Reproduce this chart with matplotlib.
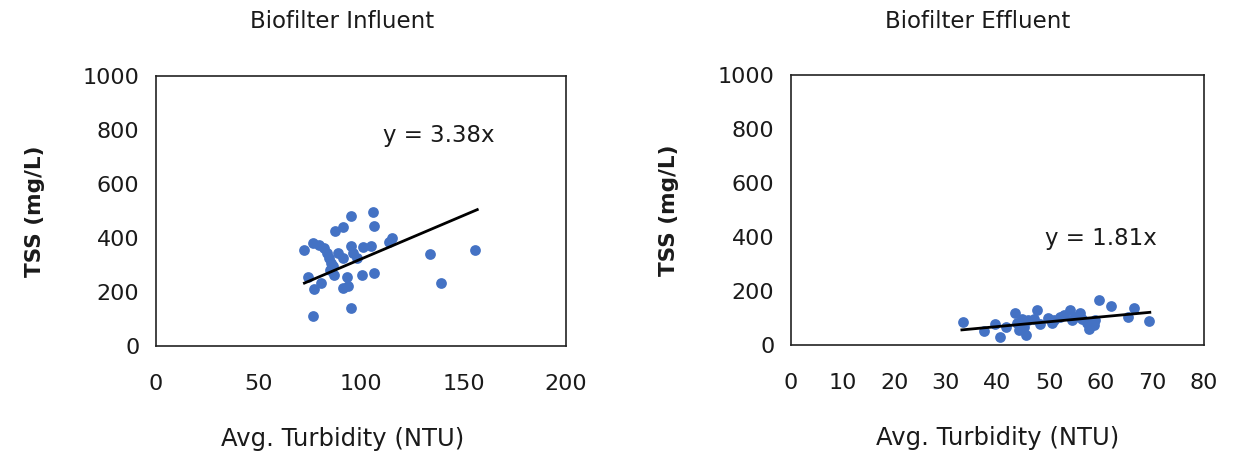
import numpy as np
import matplotlib.pyplot as plt

# Biofilter influent: avg turbidity (NTU) vs TSS (mg/L)
inf_turb = [72.4, 74.3, 76.7, 77.1, 76.7, 79.6, 80.6, 82.0, 83.5, 84.5, 85.5, 86.4,
            87.0, 87.4, 91.0, 91.0, 91.3, 93.3, 93.7, 95.2, 95.2, 95.2, 96.2, 98.1,
            100.7, 101.0, 105.0, 105.6, 106.3, 106.3, 113.8, 115.1, 133.7, 139.1,
            155.7, 89.0, 84.7]
inf_tss = [354, 257, 111, 210, 381, 375, 235, 363, 344, 325, 307, 295,
           264, 424, 441, 325, 214, 257, 223, 483, 140, 369, 344, 325,
           264, 366, 371, 495, 443, 270, 384, 400, 342, 235,
           354, 344, 282]
inf_trend_x = [72.4, 156.7]
inf_trend_y = [233, 505]

# Biofilter effluent
eff_turb = [33.4, 37.4, 39.5, 40.5, 41.6, 43.3, 43.7, 44.2, 44.7, 45.1, 45.6, 46.0,
            47.6, 48.2, 49.8, 50.5, 52.1, 52.8, 54.0, 54.4, 55.0, 55.9, 56.3, 57.3,
            57.8, 58.6, 58.9, 59.7, 61.9, 65.2, 66.4, 69.3, 47.0, 51.0]
eff_tss = [84, 53, 77, 31, 68, 117, 80, 56, 96, 68, 37, 93,
           130, 77, 99, 80, 102, 111, 130, 93, 105, 117, 95, 80,
           58, 74, 93, 167, 146, 105, 136, 89, 95, 93]
eff_trend_x = [33.1, 69.5]
eff_trend_y = [56, 121]

blue = '#4472C4'
txt = '#1a1a1a'

fig = plt.figure(figsize=(12.49, 4.68), dpi=100)
ax1 = fig.add_axes([0.1249, 0.2607, 0.3283, 0.577])
ax2 = fig.add_axes([0.6333, 0.2628, 0.3307, 0.577])

panels = [
    (ax1, inf_turb, inf_tss, inf_trend_x, inf_trend_y, 200, [0, 50, 100, 150, 200],
     'y = 3.38x', (138, 780), 'Biofilter Influent', 0.274, 0.455),
    (ax2, eff_turb, eff_tss, eff_trend_x, eff_trend_y, 80, list(range(0, 81, 10)),
     'y = 1.81x', (60, 395), 'Biofilter Effluent', 0.783, 0.5),
]

for ax, x, y, tx, ty, xmax, xt, eq, eqpos, title, tpos, xlab in panels:
    ax.scatter(x, y, s=60, color=blue, zorder=3, linewidths=0)
    ax.plot(tx, ty, color='black', lw=2, zorder=4)  # trend line
    ax.set_xlim(0, xmax)
    ax.set_ylim(0, 1000)
    ax.set_xticks(xt)
    ax.set_yticks(range(0, 1001, 200))
    ax.tick_params(length=0, labelsize=16, colors=txt)
    ax.tick_params(axis='y', pad=12)
    ax.tick_params(axis='x', pad=20)
    for s in ax.spines.values():
        s.set_linewidth(1.2)
        s.set_color('#222222')
    ax.text(eqpos[0], eqpos[1], eq, fontsize=16.5, ha='center', va='center', color=txt)
    ax.set_ylabel('TSS (mg/L)', fontsize=15.5, fontweight='bold', color=txt)
    ax.yaxis.set_label_coords(-0.27, 0.5)
    ax.set_xlabel('Avg. Turbidity (NTU)', fontsize=17.5, color=txt)
    ax.xaxis.set_label_coords(xlab, -0.30)
    fig.text(tpos, 0.953, title, fontsize=16.5, ha='center', va='center', color=txt)

fig.savefig('out.png', dpi=100)
